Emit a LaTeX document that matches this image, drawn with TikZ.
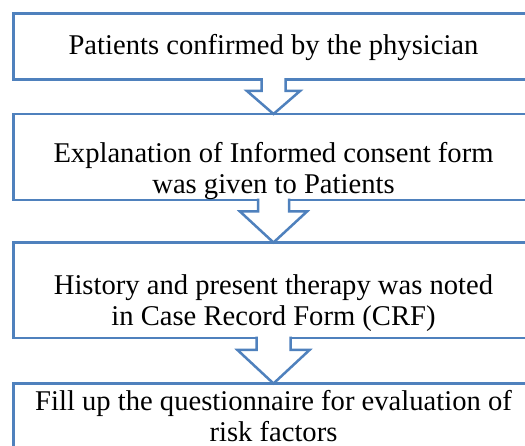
\documentclass[tikz,border=0pt]{standalone}
\usepackage{fontspec}
\setmainfont{Liberation Serif}
\usetikzlibrary{calc}
\definecolor{boxblue}{RGB}{79,129,189}
\tikzset{
  box/.style={draw=boxblue, line width=2.5pt, rectangle, inner sep=0pt, outer sep=0pt, minimum width=520pt},
  lbl/.style={anchor=base, inner sep=0pt, font=\fontsize{28.6pt}{31pt}\selectfont, text=black},
  arr/.style={draw=boxblue, fill=white, line width=2.5pt, line join=miter}
}
\newcommand{\blockarr}[5]{%
  \path[arr] ($(#1.south)+(-#3,-1.25)$) -- ($(#1.south)+(-#3,#5)$) -- ($(#1.south)+(-#4,#5)$) -- (#2.north)
    -- ($(#1.south)+(#4,#5)$) -- ($(#1.south)+(#3,#5)$) -- ($(#1.south)+(#3,-1.25)$);}
\begin{document}
\begin{tikzpicture}[x=1pt,y=-1pt]
\useasboundingbox (0,0) rectangle (525,446);
\fill[white] (0,0) rectangle (525,446);
\begin{scope}
\clip (0,0) rectangle (525,446);
\node[box, minimum height=66pt] (b1) at (273.5,46.5) {};
\node[box, minimum height=86pt] (b2) at (273.5,157) {};
\node[box, minimum height=95.5pt] (b3) at (273.5,290.25) {};
\node[box, minimum height=90pt] (b4) at (273.5,428.5) {};
\blockarr{b1}{b2}{12}{26.5}{11.5}
\blockarr{b2}{b3}{15.5}{33.5}{11.5}
\blockarr{b3}{b4}{17}{36}{12}
\node[lbl] (t1) at (273.5,55) {Patients confirmed by the physician};
\node[lbl] (t2a) at (273.5,163) {Explanation of Informed consent form};
\node[lbl] (t2b) at (273.5,194) {was given to Patients};
\node[lbl] (t3a) at (273.5,295) {History and present therapy was noted};
\node[lbl] (t3b) at (273.5,326) {in Case Record Form (CRF)};
\node[lbl] (t4a) at (273.5,410.7) {Fill up the questionnaire for evaluation of};
\node[lbl] (t4b) at (273.5,441.7) {risk factors};
\end{scope}
\end{tikzpicture}
\end{document}
